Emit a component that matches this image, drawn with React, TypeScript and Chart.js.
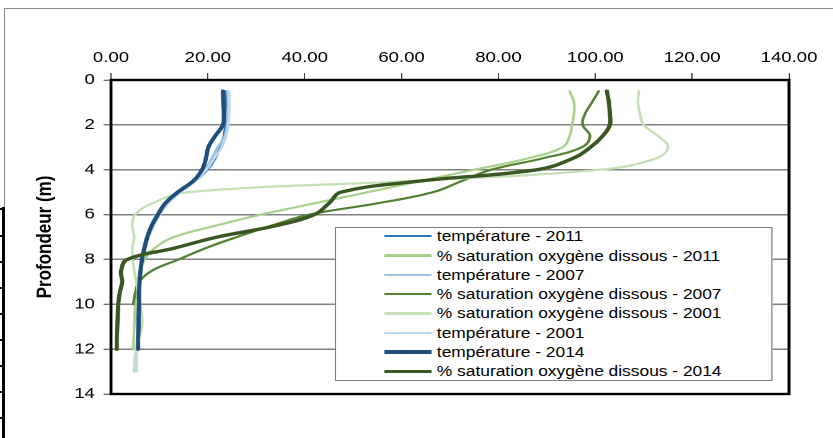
import { useEffect, useRef } from "react";
import { Chart, registerables } from "chart.js";

Chart.register(...registerables);

// profondeurs (m), pas de 0.5 m
const profondeurs = [
  0.5, 1, 1.5, 2, 2.5, 3, 3.5, 4, 4.5, 5, 5.5, 6, 6.5, 7, 7.5, 8, 8.5, 9, 9.5,
  10, 10.5, 11, 11.5, 12, 12.5, 13,
];

// températures (°C)
const temp2011 = [
  23.6, 23.7, 23.7, 23.6, 23.3, 22.5, 21.5, 19.9, 17.4, 14.2, 11.6, 9.9, 8.6,
  7.7, 7.0, 6.5, 6.2, 6.0, 5.9, 5.8, 5.8, 5.7, 5.7, 5.6,
];
const temp2007 = [
  24.1, 24.2, 24.1, 24.0, 23.5, 22.0, 20.8, 19.3, 16.9, 13.6, 11.0, 9.4, 8.2,
  7.3, 6.7, 6.3, 6.0, 5.8, 5.7, 5.6, 5.5, 5.4, 5.4, 5.3, 5.2, 5.2,
];
const temp2001 = [
  24.4, 24.4, 24.4, 24.2, 23.8, 22.8, 21.3, 19.7, 17.4, 14.4, 11.8, 10.1, 8.8,
  7.8, 7.1, 6.6, 6.2, 6.0, 5.8, 5.7, 5.6, 5.5, 5.4, 5.3, 5.2, 5.1,
];
const temp2014 = [
  23.1, 23.2, 23.3, 23.1, 21.5, 20.1, 19.6, 18.8, 17.0, 13.8, 11.2, 9.7, 8.4,
  7.5, 6.9, 6.4, 6.1, 5.9, 5.8, 5.8, 5.7, 5.7, 5.6, 5.6,
];

// % saturation oxygène dissous
const oxy2011 = [
  94.7, 95.6, 95.6, 95.2, 94.7, 93.2, 86, 75, 64, 53, 42, 31, 21.5, 13, 9, 7,
  6, 5.5, 5.2, 5.0, 4.9, 4.8, 4.7, 4.6,
];
const oxy2007 = [
  100.7, 99.3, 97.9, 97.4, 98.9, 97.2, 89, 78.5, 72.5, 66.5, 55, 41, 33, 26,
  19.5, 14, 8.5, 5.8, 5.0, 4.6,
];
const oxy2001 = [
  109, 108.8, 109.2, 110, 113, 115, 112.5, 101, 62, 16, 8.5, 5, 4.4, 4.8, 4.4,
  4.5, 4.8, 5.2, 5.6, 6.0, 6.4, 6.4, 5.8, 5.2, 4.9, 4.7,
];
const oxy2014 = [
  102.4, 102.8, 103, 103, 101.5, 99, 95.3, 88, 64, 47.5, 45, 42, 34, 22, 13,
  3.4, 2.1, 2.3, 1.8, 1.5, 1.4, 1.3, 1.2, 1.2,
];

const libelles = [
  "température - 2011",
  "% saturation oxygène dissous - 2011",
  "température - 2007",
  "% saturation oxygène dissous - 2007",
  "% saturation oxygène dissous - 2001",
  "température - 2001",
  "température - 2014",
  "% saturation oxygène dissous - 2014",
];
const valeurs = [temp2011, oxy2011, temp2007, oxy2007, oxy2001, temp2001, temp2014, oxy2014];

const couleurs = ["#2e75b6", "#a9d18e", "#9dc3e6", "#548235", "#c5e0b4", "#bdd7ee", "#1f4e79", "#385723"];
const epaisseurs = [2.2, 2.2, 2.2, 2.2, 2.2, 2.2, 3.4, 3.4];

const xTicks = [0, 20, 40, 60, 80, 100, 120, 140];
const yTicks = [0, 2, 4, 6, 8, 10, 12, 14];

// l'image d'origine est étirée horizontalement
const ETIRE = 1.24;
const W = 672;
const H = 438;
const FONT = "'Liberation Sans', Arial, sans-serif";

const cadre = {
  id: "cadre",
  beforeDatasetsDraw(chart: Chart) {
    const { ctx, chartArea } = chart;
    const { left, top, right, bottom } = chartArea;
    ctx.save();
    ctx.strokeStyle = "#000";
    ctx.lineWidth = 2.4;
    ctx.strokeRect(left, top, right - left, bottom - top);
    ctx.restore();
  },
};

export default function App() {
  const chartRef = useRef<HTMLCanvasElement>(null);
  const chartInstance = useRef<Chart | null>(null);

  useEffect(() => {
    if (!chartRef.current) return;
    const ctx = chartRef.current.getContext("2d");
    if (!ctx) return;

    Chart.defaults.font.family = FONT;

    const n = libelles.length;
    chartInstance.current = new Chart(ctx, {
      type: "scatter",
      data: {
        datasets: libelles.map((label, i) => ({
          label,
          data: valeurs[i].map((v, k) => ({ x: v, y: profondeurs[k] })),
          showLine: true,
          borderColor: couleurs[i],
          backgroundColor: couleurs[i],
          borderWidth: epaisseurs[i],
          pointRadius: 0,
          tension: 0.4,
          borderCapStyle: "round",
          borderJoinStyle: "round",
          order: n - 1 - i,
        })),
      },
      options: {
        responsive: false,
        animation: false,
        devicePixelRatio: 2,
        layout: { padding: { top: 0, left: 0, right: W - 636.3, bottom: H - 394 } },
        plugins: { legend: { display: false }, tooltip: { enabled: false } },
        scales: {
          x: {
            type: "linear",
            position: "top",
            min: 0,
            max: 140,
            afterBuildTicks: (s: any) => {
              s.ticks = xTicks.map((v) => ({ value: v }));
            },
            ticks: {
              callback: (v: any) => Number(v).toFixed(2),
              color: "#000",
              font: { size: 15 },
              padding: 6,
              maxRotation: 0,
              autoSkip: false,
            },
            grid: {
              drawOnChartArea: false,
              drawTicks: true,
              tickLength: 7,
              tickColor: "#404040",
              tickWidth: 1,
            },
            border: { display: false },
            afterFit: (s: any) => {
              s.height = 80;
            },
          },
          y: {
            type: "linear",
            reverse: true,
            min: 0,
            max: 14,
            afterBuildTicks: (s: any) => {
              s.ticks = yTicks.map((v) => ({ value: v }));
            },
            ticks: { color: "#000", font: { size: 15 }, padding: 7, autoSkip: false },
            grid: {
              color: "#808080",
              lineWidth: 1.5,
              tickLength: 6,
              tickColor: "#404040",
              tickWidth: 1,
            },
            border: { display: false },
            title: {
              display: true,
              text: "Profondeur (m)",
              color: "#000",
              font: { size: 17, weight: "bold" },
              padding: { top: 26, bottom: 0 },
            },
            afterFit: (s: any) => {
              s.width = 89.5;
            },
          },
        },
      },
      plugins: [cadre],
    });

    return () => {
      chartInstance.current?.destroy();
      chartInstance.current = null;
    };
  }, []);

  const encoches = [208, 235, 261, 287, 313, 339, 365, 391, 417];

  return (
    <div
      style={{
        position: "fixed",
        left: 0,
        top: 0,
        width: 833,
        height: H,
        background: "#fff",
        overflow: "hidden",
      }}
    >
      <div style={{ position: "absolute", left: 5, top: 8, right: 0, height: 1, background: "#868686" }} />
      <div style={{ position: "absolute", left: 4, top: 8, width: 1, height: 200, background: "#868686" }} />
      <div style={{ position: "absolute", left: 2, top: 207, width: 3, bottom: 0, background: "#000" }} />
      {encoches.map((y) => (
        <div key={y} style={{ position: "absolute", left: 0, top: y, width: 4, height: 2, background: "#000" }} />
      ))}

      <div
        style={{
          position: "absolute",
          left: 0,
          top: 0,
          width: W,
          height: H,
          transform: `scaleX(${ETIRE})`,
          transformOrigin: "0 0",
        }}
      >
        <canvas ref={chartRef} width={W} height={H} />
        <div
          style={{
            position: "absolute",
            left: 270.2,
            top: 227,
            width: 353.2,
            height: 154,
            boxSizing: "border-box",
            border: "1.2px solid #7f7f7f",
            background: "#fff",
            fontFamily: FONT,
            fontSize: 14,
            color: "#000",
          }}
        >
          {libelles.map((label, i) => (
            <div
              key={label}
              style={{
                position: "absolute",
                left: 39.1,
                top: -1.35 + i * 19.3,
                height: 19.3,
                display: "flex",
                alignItems: "center",
                whiteSpace: "nowrap",
              }}
            >
              <span
                style={{
                  display: "inline-block",
                  width: 38,
                  height: epaisseurs[i],
                  background: couleurs[i],
                  marginRight: 4,
                }}
              />
              <span>{label}</span>
            </div>
          ))}
        </div>
      </div>
    </div>
  );
}
